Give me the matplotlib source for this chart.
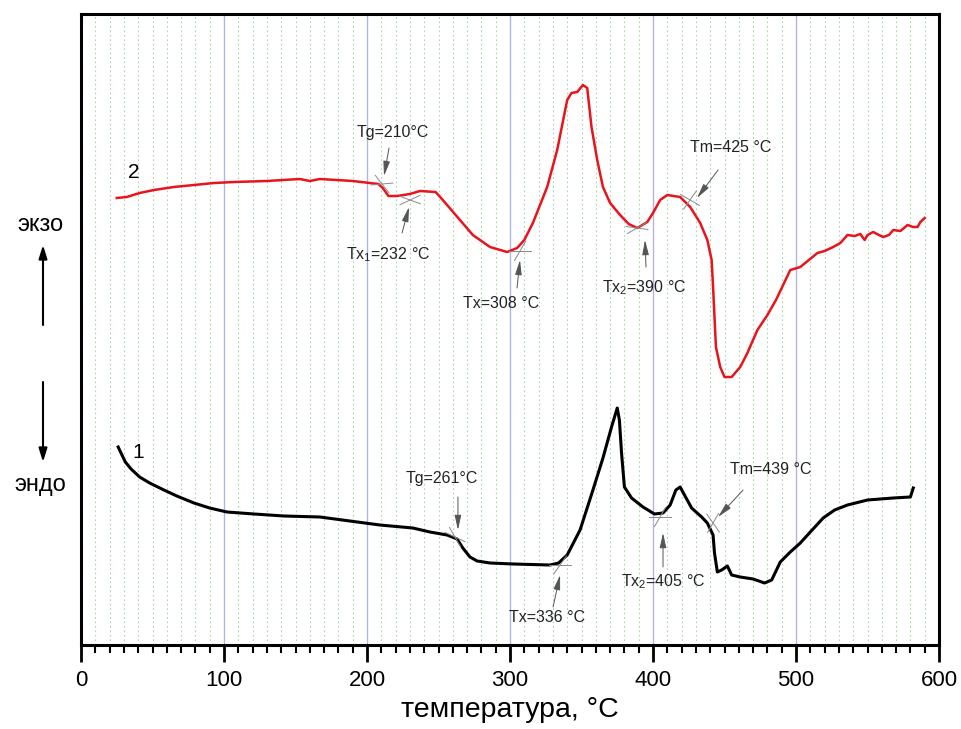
import matplotlib.pyplot as plt
import numpy as np

plt.rcParams['font.family'] = ['Liberation Sans', 'DejaVu Sans']
plt.rcParams['mathtext.fontset'] = 'custom'
plt.rcParams['mathtext.rm'] = 'Liberation Sans'
plt.rcParams['mathtext.it'] = 'Liberation Sans:italic'

# Curve 2 (red): temperature, signal (arbitrary units)
t_red = [25, 32, 41, 51, 65, 79, 93, 107, 130, 153, 160, 167, 190, 208, 211, 215, 221, 230,
         237, 248, 253, 265, 274, 286, 298, 305, 310, 316, 326, 333, 340, 343, 347, 351,
         354, 357, 361, 365, 370, 377, 383, 389, 396, 400, 405, 410, 419, 426, 433, 438,
         441, 442, 443, 444, 447, 450, 455, 461, 466, 473, 480, 486, 496, 503, 509, 515,
         520, 526, 531, 536, 541, 545, 548, 550, 554, 558, 561, 565, 568, 573, 578, 582,
         585, 587, 590]
s_red = [447, 448, 452, 455, 458, 460, 462, 463, 464, 466, 464, 466, 464, 461, 457, 449, 449,
         451, 454, 453, 445, 425, 410, 398, 393, 397, 405, 422, 458, 495, 545, 552, 553,
         560, 557, 518, 485, 458, 442, 430, 421, 417, 423, 432, 445, 450, 448, 438, 422,
         405, 385, 358, 328, 298, 278, 268, 268, 278, 292, 315, 330, 345, 375, 378, 385,
         392, 394, 398, 402, 410, 409, 411, 405, 410, 413, 410, 408, 410, 415, 414, 420,
         418, 418, 423, 427]

# Curve 1 (black)
t_blk = [26, 28, 31, 35, 41, 48, 58, 67, 79, 90, 102, 121, 142, 167, 209, 232, 244, 256,
         263, 267, 272, 277, 286, 302, 328, 334, 340, 349, 358, 365, 371, 375, 376.5, 378,
         380, 385, 393, 401, 407, 412, 416, 419, 422, 427, 434, 438, 442, 443, 445, 448,
         452, 455, 461, 470, 478, 483, 489, 496, 503, 510, 519, 527, 536, 550, 568, 580, 582]
s_blk = [198, 192, 183, 176, 168, 162, 155, 149, 142, 137, 133, 131, 129, 128, 120, 117, 113,
         110, 106, 97, 88, 84, 82, 81, 80, 82, 90, 115, 155, 187, 218, 237, 225, 192,
         158, 147, 138, 131, 132, 140, 155, 158, 150, 137, 128, 122, 110, 92, 73, 75,
         79, 70, 68, 66, 62, 65, 83, 93, 102, 113, 127, 135, 140, 145, 147, 148, 157]

# Annotations: text, text pos, arrow tail, arrow head, tangent point, tangent angles (deg)
ann_text = ['Tg=210°C', 'Tx$_\\mathrm{1}$=232 °C', 'Tx=308 °C', 'Tx$_\\mathrm{2}$=390 °C',
            'Tm=425 °C', 'Tg=261°C', 'Tx=336 °C', 'Tx$_\\mathrm{2}$=405 °C', 'Tm=439 °C']
ann_xy_text = [(218, 513), (215, 390), (294, 342), (394, 357), (454, 497),
               (252, 167), (326, 28), (407, 63), (482, 175)]
ann_tail = [(215.4, 497), (224.5, 412), (304.9, 357), (395.1, 378), (445.5, 475),
            (263.6, 148), (330.1, 38), (407, 78), (463, 155)]
ann_head = [(211.9, 469), (229.4, 438), (307, 385), (394.4, 405), (430.8, 447),
            (263.6, 115), (335, 70), (407, 112), (445.5, 128)]
tan_pt = [(210.5, 461), (230.1, 445), (307, 394), (388.8, 417), (425.9, 445),
          (261.5, 108), (335, 80), (404.9, 128), (442, 122)]
tan_ang = [(-52, 5), (25, -20), (0, 60), (30, -8), (-30, 55),
           (-25, -60), (0, 55), (0, 60), (-55, 60)]

fig = plt.figure(figsize=(9.62, 7.29), dpi=100, facecolor='white')
ax = fig.add_axes([81 / 962, 84 / 729, 858 / 962, 631 / 729])
ax.set_xlim(0, 600)
ax.set_ylim(0, 631)

# grid
for x in np.arange(10, 600, 10):
    if x % 100 == 0:
        ax.axvline(x, color='#b4b4dc', lw=1.0, zorder=0)
    else:
        ax.axvline(x, color='#a9d6a9', lw=0.8, ls=(0, (1.5, 2.5)), zorder=0)

ax.plot(t_red, s_red, color='#e8141c', lw=1.8, zorder=3)
ax.plot(t_blk, s_blk, color='black', lw=2.2, zorder=3)

# tangent crosses
px_per_t = 858 / 600
half = 11
for (tp, sp), angs in zip(tan_pt, tan_ang):
    for a in angs:
        r = np.deg2rad(a)
        dt = half * np.cos(r) / px_per_t
        ds = half * np.sin(r)
        ax.plot([tp - dt, tp + dt], [sp - ds, sp + ds], color='#8a8a8a', lw=0.7, zorder=4)

for txt, pt, tail, head in zip(ann_text, ann_xy_text, ann_tail, ann_head):
    ax.text(pt[0], pt[1], txt, fontsize=11.5, ha='center', va='center', color='#222222', zorder=5)
    ax.annotate('', xy=head, xytext=tail,
                arrowprops=dict(arrowstyle='-|>,head_length=0.9,head_width=0.2',
                                color='#555555', lw=0.7, shrinkA=0, shrinkB=0),
                zorder=5)

ax.text(37, 473, '2', fontsize=15, ha='center', va='center')
ax.text(40, 193, '1', fontsize=15, ha='center', va='center')

# axes styling
for sp in ax.spines.values():
    sp.set_linewidth(2.2)
ax.set_yticks([])
ax.set_xticks(np.arange(0, 601, 100))
ax.set_xticks(np.arange(0, 601, 10), minor=True)
ax.tick_params(axis='x', which='major', direction='out', length=12, width=2, labelsize=16, pad=6)
ax.tick_params(axis='x', which='minor', direction='out', length=6, width=1.5)
ax.set_xlabel('температура, °C', fontsize=20.5, labelpad=4)

# endo/exo indicators
fig.text(40 / 962, 1 - 225 / 729, 'экзо', fontsize=17, ha='center', va='center')
fig.text(40 / 962, 1 - 485 / 729, 'эндо', fontsize=17, ha='center', va='center')
ax.annotate('', xy=(43 / 962, 1 - 245 / 729), xytext=(43 / 962, 1 - 325 / 729),
            xycoords='figure fraction', textcoords='figure fraction',
            arrowprops=dict(arrowstyle='-|>,head_length=0.8,head_width=0.25', color='black', lw=1.5,
                            shrinkA=0, shrinkB=0))
ax.annotate('', xy=(43 / 962, 1 - 462 / 729), xytext=(43 / 962, 1 - 382 / 729),
            xycoords='figure fraction', textcoords='figure fraction',
            arrowprops=dict(arrowstyle='-|>,head_length=0.8,head_width=0.25', color='black', lw=1.5,
                            shrinkA=0, shrinkB=0))

plt.savefig('out.png', dpi=100)
